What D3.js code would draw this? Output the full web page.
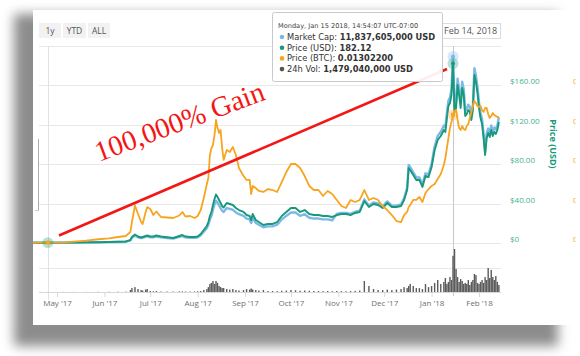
<!DOCTYPE html>
<html><head><meta charset="utf-8">
<script src="https://cdn.jsdelivr.net/npm/d3@7/dist/d3.min.js"></script>
<style>body{margin:0;background:#fff;}svg{display:block;}</style>
</head><body>
<svg id="c" width="580" height="356"></svg>
<script>
const dates = ["2017-04-14","2017-04-20","2017-04-25","2017-05-05","2017-05-12","2017-05-20","2017-05-28","2017-06-04","2017-06-10","2017-06-15",
"2017-06-18","2017-06-19","2017-06-21","2017-06-23","2017-06-25","2017-06-26","2017-06-28","2017-06-29","2017-07-01","2017-07-03",
"2017-07-05","2017-07-08","2017-07-12","2017-07-16","2017-07-20","2017-07-22","2017-07-24","2017-07-27","2017-07-30","2017-08-01",
"2017-08-03","2017-08-05","2017-08-07","2017-08-08","2017-08-09","2017-08-10","2017-08-11","2017-08-12","2017-08-13","2017-08-14",
"2017-08-15","2017-08-16","2017-08-17","2017-08-18","2017-08-20","2017-08-22","2017-08-24","2017-08-26","2017-08-28","2017-08-31",
"2017-09-02","2017-09-04","2017-09-05","2017-09-06","2017-09-08","2017-09-10","2017-09-13","2017-09-16","2017-09-19","2017-09-22",
"2017-09-25","2017-09-28","2017-10-01","2017-10-04","2017-10-07","2017-10-10","2017-10-13","2017-10-16","2017-10-19","2017-10-22",
"2017-10-25","2017-10-28","2017-10-31","2017-11-03","2017-11-06","2017-11-09","2017-11-12","2017-11-15","2017-11-18","2017-11-21",
"2017-11-24","2017-11-27","2017-11-30","2017-12-03","2017-12-06","2017-12-09","2017-12-12","2017-12-14","2017-12-16","2017-12-17",
"2017-12-18","2017-12-20","2017-12-22","2017-12-24","2017-12-26","2017-12-28","2017-12-30","2018-01-01","2018-01-03","2018-01-05",
"2018-01-07","2018-01-09","2018-01-10","2018-01-11","2018-01-12","2018-01-13","2018-01-14","2018-01-15","2018-01-16","2018-01-17",
"2018-01-18","2018-01-19","2018-01-20","2018-01-21","2018-01-22","2018-01-23","2018-01-24","2018-01-25","2018-01-26","2018-01-27",
"2018-01-28","2018-01-29","2018-01-30","2018-01-31","2018-02-01","2018-02-02","2018-02-03","2018-02-04","2018-02-05","2018-02-06",
"2018-02-07","2018-02-08","2018-02-09","2018-02-10","2018-02-11","2018-02-12","2018-02-13","2018-02-14"];

const priceUSD = [0.2,0.3,0.3,0.4,0.5,0.6,0.8,1.0,1.2,1.5,
3.0,6.1,8.6,6.6,5.6,6.1,7.1,7.6,6.6,6.6,
7.6,6.6,5.8,5.1,7.1,8.1,6.6,6.1,6.1,6.6,
9.1,13.2,17.3,21.3,27.4,31.5,38.6,44.7,49.2,46.7,
43.7,40.6,37.6,36.0,40.6,39.6,38.6,35.5,33.5,31.5,
28.4,27.4,23.3,29.4,23.3,21.3,18.3,19.3,19.3,21.3,
27.4,31.5,35.5,35.5,31.5,33.5,29.4,28.4,28.4,27.4,
27.4,26.4,28.4,29.4,29.4,28.4,30.5,31.5,42.6,36.5,
39.6,38.6,35.5,40.6,36.5,36.5,37.6,43.7,53.8,76.1,
74.1,69.0,64.0,64.0,56.9,68.0,67.0,77.2,94.4,104.6,
108.6,114.7,112.7,126.9,139.1,142.1,150.2,182.12,133.0,137.1,
160.4,150.2,137.1,157.4,150.2,128.9,131.0,135.0,133.0,124.9,
135.0,170.6,163.4,152.3,137.1,126.9,120.8,106.6,89.3,106.6,
111.7,107.6,114.7,108.6,112.7,110.7,114.7,122.8];

const marketCapB = [0.011,0.016,0.016,0.022,0.027,0.033,0.044,0.055,0.066,0.082,
0.164,0.333,0.470,0.360,0.306,0.333,0.388,0.415,0.360,0.360,
0.415,0.360,0.317,0.278,0.388,0.442,0.360,0.333,0.333,0.360,
0.497,0.721,0.945,1.163,1.496,1.720,2.108,2.441,2.686,2.550,
2.386,2.217,2.053,1.966,2.217,2.162,2.108,1.938,1.829,1.720,
1.551,1.496,1.272,1.605,1.272,1.163,0.999,1.054,1.054,1.163,
1.496,1.720,1.938,1.938,1.720,1.829,1.605,1.551,1.551,1.496,
1.496,1.441,1.846,1.911,1.911,1.846,1.983,2.048,2.769,2.373,
2.574,2.509,2.308,2.639,2.373,2.373,2.444,2.841,3.497,4.947,
4.817,4.485,4.160,4.160,3.699,4.420,4.355,5.018,6.136,6.799,
7.059,7.456,7.326,8.249,9.042,9.237,9.763,11.837605,8.645,8.912,
10.426,9.763,8.912,10.231,9.763,8.379,8.515,8.775,8.645,8.119,
8.775,11.089,10.621,9.900,8.912,8.249,7.852,6.929,5.805,6.929,
7.261,6.994,7.456,7.059,7.326,7.196,7.456,7.982];

const priceBTC = [0.00002,0.00003,0.00004,0.00007,0.00015,0.00025,0.00038,0.00046,0.00061,0.00071,
0.00112,0.00213,0.00381,0.00294,0.00213,0.00193,0.00315,0.00365,0.00345,0.00284,
0.00320,0.00264,0.00259,0.00254,0.00279,0.00315,0.00269,0.00274,0.00254,0.00274,
0.00335,0.00457,0.00599,0.00660,0.00893,0.00964,0.00995,0.01096,0.01249,0.01167,
0.01117,0.01147,0.00964,0.00843,0.00944,0.00924,0.00975,0.00893,0.00761,0.00680,
0.00640,0.00640,0.00497,0.00579,0.00558,0.00528,0.00518,0.00548,0.00538,0.00518,
0.00619,0.00721,0.00802,0.00802,0.00761,0.00680,0.00579,0.00538,0.00538,0.00477,
0.00528,0.00497,0.00437,0.00376,0.00355,0.00437,0.00416,0.00437,0.00538,0.00437,
0.00457,0.00437,0.00376,0.00335,0.00284,0.00223,0.00213,0.00284,0.00315,0.00365,
0.00386,0.00437,0.00437,0.00467,0.00416,0.00508,0.00548,0.00579,0.00599,0.00650,
0.00700,0.00792,0.00863,0.00964,0.01066,0.01167,0.01228,0.01302200,0.01340,0.01350,
0.01249,0.01167,0.01147,0.01188,0.01157,0.01147,0.01188,0.01208,0.01269,0.01330,
0.01391,0.01442,0.01421,0.01391,0.01381,0.01391,0.01350,0.01330,0.01371,0.01371,
0.01310,0.01269,0.01289,0.01320,0.01299,0.01289,0.01279,0.01279];

const volumeM = [3,3,4,5,5,6,8,10,12,15,
80,160,200,120,80,60,100,120,40,30,
40,20,20,18,25,25,20,18,20,30,
40,80,120,200,330,370,450,330,450,370,
245,200,160,160,120,100,120,80,60,80,
120,100,140,100,80,60,80,40,40,35,
50,60,80,70,50,60,50,40,40,35,
40,30,40,35,30,40,45,60,450,245,
120,80,80,100,80,100,120,200,160,245,
330,245,160,160,120,330,200,245,370,490,
330,410,570,330,410,610,490,1479.04,1755,940,
610,410,530,450,330,370,330,490,285,410,
490,735,690,370,330,410,490,370,610,490,
980,570,900,610,490,650,410,285];

const monthTicks = ["2017-05-01","2017-06-01","2017-07-01","2017-08-01","2017-09-01","2017-10-01","2017-11-01","2017-12-01","2018-01-01","2018-02-01"];
const usdGrid = [0,40,80,120,160,200];
const usdTicks = [0,40,80,120,160];
const btcTicks = [0,0.004,0.008,0.012,0.016];
const rangeButtons = ["1y","YTD","ALL"];
const hoverDate = "2018-01-15";
const hoverStamp = "Monday, Jan 15 2018, 14:54:07 UTC-07:00";
const shownDate = "Feb 14, 2018";
const annotation = "100,000% Gain";

const C = {blue:"#7cb9e8", green:"#17997a", orange:"#f7a51e", vol:"#5b5b5b", grid:"#e8e8e8", red:"#f41515"};
const FONT = "'Open Sans', 'DejaVu Sans', sans-serif";
const TTFONT = "'DejaVu Sans', sans-serif";

const parse = d3.utcParse("%Y-%m-%d");
const D = dates.map(parse);
const svg = d3.select("#c");
const defs = svg.append("defs");
defs.append("filter").attr("id","blur").attr("x","-20%").attr("y","-20%").attr("width","140%").attr("height","140%")
  .append("feGaussianBlur").attr("stdDeviation",6);
defs.append("clipPath").attr("id","card").append("rect").attr("x",33).attr("y",10).attr("width",542.5).attr("height",315);
defs.append("clipPath").attr("id","plot").append("rect").attr("x",33).attr("y",40).attr("width",469).attr("height",260);

// shadow + card
svg.append("rect").attr("x",14).attr("y",14).attr("width",544).attr("height",332).attr("fill","#8c8c8c").attr("filter","url(#blur)");
svg.append("rect").attr("x",33).attr("y",10).attr("width",547).attr("height",315).attr("fill","#fff");

const card = svg.append("g").attr("clip-path","url(#card)").style("font-family",FONT);

const x = d3.scaleUtc().domain([parse("2017-05-01"), parse("2018-02-01")]).range([57,479]);
const yUSD = d3.scaleLinear().domain([0,200]).range([243,46]);
const yCap = d3.scaleLinear().domain([0,12.5]).range([243,46]);
const yBTC = d3.scaleLinear().domain([0,0.02]).range([243,46]);
const yVol = d3.scaleLinear().domain([0,2000]).range([292,243]);

// range buttons
const btnX = [39,63,88], btnW=[22,23,22];
rangeButtons.forEach((b,i)=>{
  card.append("rect").attr("x",btnX[i]).attr("y",23).attr("width",btnW[i]).attr("height",15).attr("fill","#f2f2f2");
  card.append("text").attr("x",btnX[i]+btnW[i]/2).attr("y",33.5).attr("text-anchor","middle")
    .attr("font-size",8.5).attr("fill","#555").text(b);
});
// date box
card.append("rect").attr("x",440.5).attr("y",23.5).attr("width",60).attr("height",15).attr("fill","#fff").attr("stroke","#ddd");
card.append("text").attr("x",444).attr("y",34).attr("font-size",9).attr("fill","#555").text(shownDate);
card.append("line").attr("x1",492).attr("x2",543).attr("y1",7).attr("y2",7).attr("stroke","#ddd");

// grid
card.selectAll(".g").data(usdGrid).join("line").attr("x1",39).attr("x2",501)
  .attr("y1",d=>Math.round(yUSD(d))+0.5).attr("y2",d=>Math.round(yUSD(d))+0.5).attr("stroke",C.grid);
card.append("line").attr("x1",39).attr("x2",501).attr("y1",Math.round(yVol(1000))+0.5).attr("y2",Math.round(yVol(1000))+0.5).attr("stroke",C.grid);
// left navigator mark
card.append("line").attr("x1",38.5).attr("x2",38.5).attr("y1",139).attr("y2",210).attr("stroke","#aaa");
card.append("line").attr("x1",35).attr("x2",39).attr("y1",210.5).attr("y2",210.5).attr("stroke","#ccc");

// start cursor line
card.append("line").attr("x1",Math.round(x(D[2]))+0.5).attr("x2",Math.round(x(D[2]))+0.5).attr("y1",46).attr("y2",300).attr("stroke","#e2e2e2");
// hover crosshair
const hi = dates.indexOf(hoverDate);
card.append("line").attr("x1",Math.round(x(D[hi]))+0.5).attr("x2",Math.round(x(D[hi]))+0.5).attr("y1",46).attr("y2",296).attr("stroke","#c8c8c8");

// volume bars
card.append("g").selectAll("rect").data(volumeM).join("rect")
  .attr("x",(d,i)=>x(D[i])-0.7).attr("width",1.4)
  .attr("y",d=>yVol(d)).attr("height",d=>yVol(0)-yVol(d)).attr("fill",C.vol);

// x axis
const xa = card.append("g").attr("transform","translate(0,292)")
  .call(d3.axisBottom(x).tickValues(monthTicks.map(parse)).tickFormat(d3.utcFormat("%b '%y")).tickSize(5).tickPadding(3));
xa.select(".domain").remove();
card.append("line").attr("x1",39).attr("x2",501).attr("y1",292.5).attr("y2",292.5).attr("stroke","#d8d8d8");
xa.selectAll(".tick line").attr("stroke","#d8d8d8");
xa.selectAll(".tick text").attr("fill","#6f6f6f").attr("font-size",8).style("font-family",FONT);

// lines
const plot = card.append("g").attr("clip-path","url(#plot)");
const mk = (arr, ys) => d3.line().x((d,i)=>x(D[i])).y(d=>ys(d))(arr);
plot.append("path").attr("d",mk(marketCapB,yCap)).attr("fill","none").attr("stroke",C.blue).attr("stroke-width",2.4).attr("stroke-linejoin","round");
plot.append("path").attr("d",mk(priceUSD,yUSD)).attr("fill","none").attr("stroke",C.green).attr("stroke-width",1.9).attr("stroke-linejoin","round");
plot.append("path").attr("d",mk(priceBTC,yBTC)).attr("fill","none").attr("stroke",C.orange).attr("stroke-width",1.8).attr("stroke-linejoin","round");

// markers
function halo(cx,cy,col){ card.append("circle").attr("cx",cx).attr("cy",cy).attr("r",5.5).attr("fill",col).attr("fill-opacity",0.3); }
halo(x(D[2]), yUSD(priceUSD[2]), C.green);
card.append("rect").attr("x",x(D[2])-2).attr("y",yBTC(priceBTC[2])-2).attr("width",4).attr("height",4).attr("fill",C.orange);
halo(x(D[hi]), yCap(marketCapB[hi]), C.blue);
card.append("circle").attr("cx",x(D[hi])).attr("cy",yCap(marketCapB[hi])).attr("r",2).attr("fill",C.blue);
halo(x(D[hi]), yUSD(priceUSD[hi]), C.green);
card.append("circle").attr("cx",x(D[hi])).attr("cy",yUSD(priceUSD[hi])).attr("r",2).attr("fill",C.green);
halo(x(D[hi]), yBTC(priceBTC[hi]), C.orange);
card.append("rect").attr("x",x(D[hi])-2).attr("y",yBTC(priceBTC[hi])-2).attr("width",4).attr("height",4).attr("fill",C.orange);

// right axes
const ra = card.append("g").attr("transform","translate(508,-4)")
  .call(d3.axisRight(yUSD).tickValues(usdTicks).tickSize(0).tickPadding(2).tickFormat(d=>d===0?"$0":d3.format("$,.2f")(d)));
ra.select(".domain").remove();
ra.selectAll("text").attr("fill","#49b293").attr("font-size",8).style("font-family",FONT);
const ba = card.append("g").attr("transform","translate(571,-4)")
  .call(d3.axisRight(yBTC).tickValues(btcTicks).tickSize(0).tickPadding(2).tickFormat(d=>d3.format(".4f")(d)+" BTC"));
ba.select(".domain").remove();
ba.selectAll("text").attr("fill",C.orange).attr("font-size",8).style("font-family",FONT);
card.append("text").attr("transform","translate(550,144) rotate(90)").attr("text-anchor","middle")
  .attr("font-size",9).attr("font-weight","bold").attr("fill",C.green).text("Price (USD)");

// red annotation
svg.append("line").attr("x1",59).attr("y1",235.5).attr("x2",447).attr("y2",69).attr("stroke",C.red).attr("stroke-width",2.6);
svg.append("text").attr("transform","translate(99,162) rotate(-20.5)").attr("font-family","'Liberation Serif','Times New Roman',serif")
  .attr("font-size",28.5).attr("fill",C.red).text(annotation);

// tooltip
const tt = svg.append("g").style("font-family",TTFONT);
tt.append("rect").attr("x",272.5).attr("y",12.5).attr("width",170).attr("height",69).attr("rx",2)
  .attr("fill","#fff").attr("fill-opacity",0.93).attr("stroke","#c9c9c9");
tt.append("text").attr("x",278).attr("y",27.5).attr("font-size",6.6).attr("fill","#444").text(hoverStamp);
const fmtInt = d3.format(",.0f");
const rows = [
  [C.blue,"Market Cap: ", fmtInt(marketCapB[hi]*1e9)+" USD"],
  [C.green,"Price (USD): ", d3.format(".2f")(priceUSD[hi])],
  [C.orange,"Price (BTC): ", d3.format(".8f")(priceBTC[hi])],
  ["#555","24h Vol: ", fmtInt(volumeM[hi]*1e6)+" USD"]
];
rows.forEach((r,i)=>{
  const by = 40 + i*10.7;
  tt.append("circle").attr("cx",282).attr("cy",by-3).attr("r",2.3).attr("fill",r[0]);
  const t = tt.append("text").attr("x",287).attr("y",by).attr("font-size",8.3).attr("fill","#333");
  t.append("tspan").text(r[1]);
  t.append("tspan").attr("font-weight","bold").text(r[2]);
});
</script>
</body></html>
